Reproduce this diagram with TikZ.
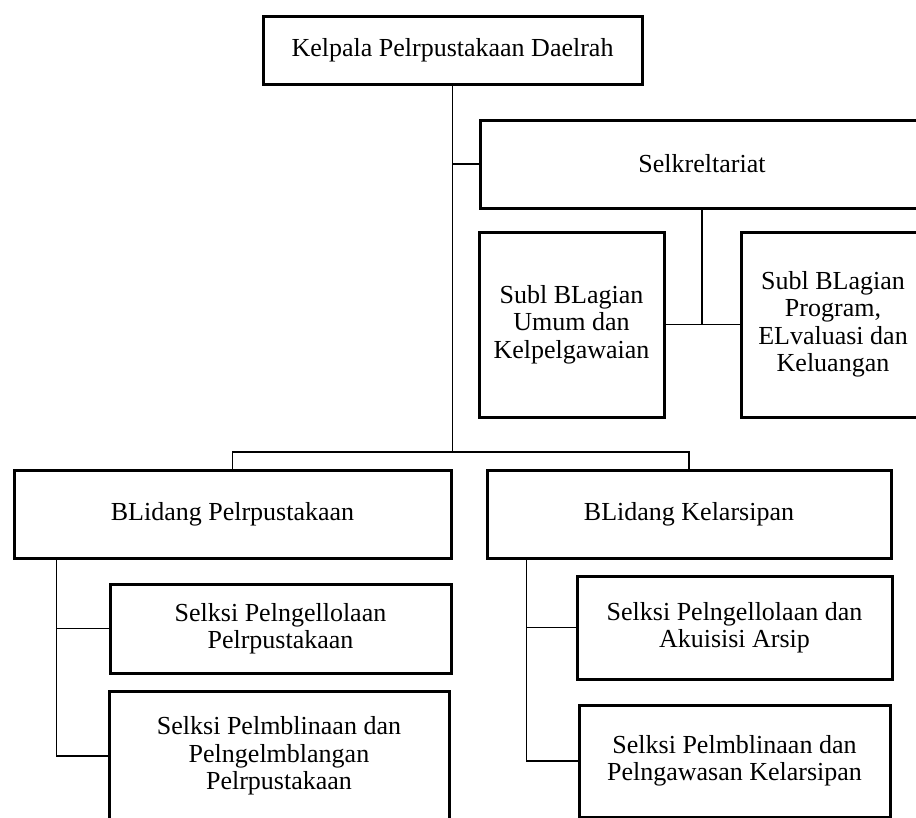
\documentclass[tikz,border=0pt]{standalone}
\usepackage{fontspec}
\setmainfont{Liberation Serif}
\usetikzlibrary{positioning}

\tikzset{obox/.style = {shape = rectangle,
                        draw = black,
                        line width = 3pt,
                        align = center,
                        inner sep = 2pt,
                        font = \fontsize{26}{27.5}\selectfont},
         oline/.style = {draw = black,
                         line width = 1.3pt}}

\begin{document}
\begin{tikzpicture}[x=1pt,y=-1pt]
		\useasboundingbox (0,0) rectangle (916,817);
		\clip (0,0) rectangle (916,817);
		% kepala dan sekretariat
		\node[obox, minimum width=379pt, minimum height=68pt] (kepala) at (452.5,50) {Kelpala Pelrpustakaan Daelrah};
		\node[obox, minimum width=444pt, minimum height=88pt] (sekre) at (702,164) {Selkreltariat};
		\node[obox, minimum width=185pt, minimum height=185pt] (subumum) at (571.5,324.5) {Subl BLagian\\Umum dan\\Kelpelgawaian};
		\node[obox, minimum width=184pt, minimum height=185pt] (subprog) at (833,324.5) {Subl BLagian\\Program,\\ELvaluasi dan\\Keluangan};
		% bidang
		\node[obox, minimum width=437pt, minimum height=88pt] (bidpus) at (232.5,514) {BLidang Pelrpustakaan};
		\node[obox, minimum width=404pt, minimum height=88pt] (bidars) at (689,514) {BLidang Kelarsipan};
		% seksi
		\node[obox, minimum width=341pt, minimum height=89pt] (sekpus1) at (280.5,628.5) {Selksi Pelngellolaan\\Pelrpustakaan};
		\node[obox, minimum width=340pt, minimum height=130pt] (sekpus2) at (279,756) {Selksi Pelmblinaan dan\\Pelngelmblangan\\Pelrpustakaan};
		\node[obox, minimum width=315pt, minimum height=103pt] (sekars1) at (734.5,627.5) {Selksi Pelngellolaan dan\\Akuisisi Arsip};
		\node[obox, minimum width=311pt, minimum height=112pt] (sekars2) at (734.5,761) {Selksi Pelmblinaan dan\\Pelngawasan Kelarsipan};
		\coordinate (cabang) at (452.5,452);
		\coordinate (kiri) at ([xshift=44pt]bidpus.south west);
		\coordinate (kanan) at ([xshift=41pt]bidars.south west);
		\coordinate (tengah) at (sekre.south |- subumum.east);
		\path[oline] (kepala.south) -- (cabang);
		\path[oline] (kepala.south |- sekre.west) -- (sekre.west);
		\path[oline] (bidpus.north) -- (bidpus.north |- cabang) -- (bidars.north |- cabang) -- (bidars.north);
		\path[oline] (sekre.south) -- (tengah);
		\path[oline] (subumum.east) -- (subprog.west);
		\path[oline] (kiri) |- (sekpus2.west);
		\path[oline] (kiri |- sekpus1.west) -- (sekpus1.west);
		\path[oline] (kanan) |- (sekars2.west);
		\path[oline] (kanan |- sekars1.west) -- (sekars1.west);
	\end{tikzpicture}
\end{document}
